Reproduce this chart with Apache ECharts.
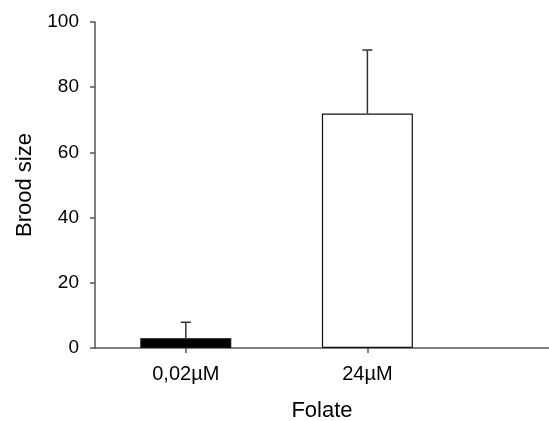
<!DOCTYPE html>
<html>
<head>
<meta charset="utf-8">
<script src="https://cdn.jsdelivr.net/npm/echarts@6/dist/echarts.min.js"></script>
<style>
html, body { margin: 0; padding: 0; background: #fff; }
#chart { width: 549px; height: 421px; }
</style>
</head>
<body>
<div id="chart"></div>
<script>
// folate groups, placed at x = 1 and x = 2
var categories = ['0,02µM', '24µM'];
var positions = [1, 2];
var means = [3.0, 71.9];
var errors = [4.9, 19.5];
var barColors = ['#000000', '#ffffff'];
var yTicks = [0, 20, 40, 60, 80, 100];

var chart = echarts.init(document.getElementById('chart'));

var barData = positions.map(function (p, i) {
    return { value: [p, means[i]], itemStyle: { color: barColors[i] } };
});
var errData = positions.map(function (p, i) {
    return [p, means[i], means[i] + errors[i]];
});

var fontFam = '"Liberation Sans", Arial, sans-serif';
var axisStroke = { color: '#555', width: 1.5 };

chart.setOption({
    animation: false,
    grid: { left: 95, right: 0, top: 22, bottom: 73, outerBoundsMode: 'none', containLabel: false },
    xAxis: {
        type: 'value',
        min: 0.5,
        max: 3,
        name: 'Folate',
        nameLocation: 'middle',
        nameGap: 52,
        nameTextStyle: { fontSize: 22, color: '#000', fontFamily: fontFam },
        splitLine: { show: false },
        axisLine: { lineStyle: axisStroke },
        axisTick: { show: true, customValues: positions, length: 5, lineStyle: axisStroke },
        axisLabel: {
            customValues: positions,
            margin: 16,
            fontSize: 20,
            color: '#000',
            fontFamily: fontFam,
            formatter: function (v) {
                var i = positions.indexOf(v);
                return i >= 0 ? categories[i] : '';
            }
        }
    },
    yAxis: {
        type: 'value',
        min: 0,
        max: 100,
        interval: 20,
        name: 'Brood size',
        nameLocation: 'middle',
        nameGap: 59,
        nameTextStyle: { fontSize: 22, color: '#000', fontFamily: fontFam },
        splitLine: { show: false },
        axisLine: { show: true, lineStyle: axisStroke },
        axisTick: { show: true, length: 5, lineStyle: axisStroke },
        axisLabel: {
            customValues: yTicks,
            margin: 16,
            fontSize: 19,
            color: '#000',
            fontFamily: fontFam
        }
    },
    series: [
        {
            type: 'bar',
            data: barData,
            barWidth: 91,
            itemStyle: { borderColor: '#111', borderWidth: 1.2 }
        },
        {
            type: 'custom',
            data: errData,
            z: 3,
            renderItem: function (params, api) {
                var x = api.value(0);
                var lo = api.coord([x, api.value(1)]);
                var hi = api.coord([x, api.value(2)]);
                var style = { stroke: '#333', lineWidth: 1.5 };
                return {
                    type: 'group',
                    children: [
                        { type: 'line', shape: { x1: lo[0], y1: lo[1], x2: hi[0], y2: hi[1] }, style: style },
                        { type: 'line', shape: { x1: hi[0] - 5, y1: hi[1], x2: hi[0] + 5, y2: hi[1] }, style: style }
                    ]
                };
            }
        }
    ]
});
</script>
</body>
</html>
